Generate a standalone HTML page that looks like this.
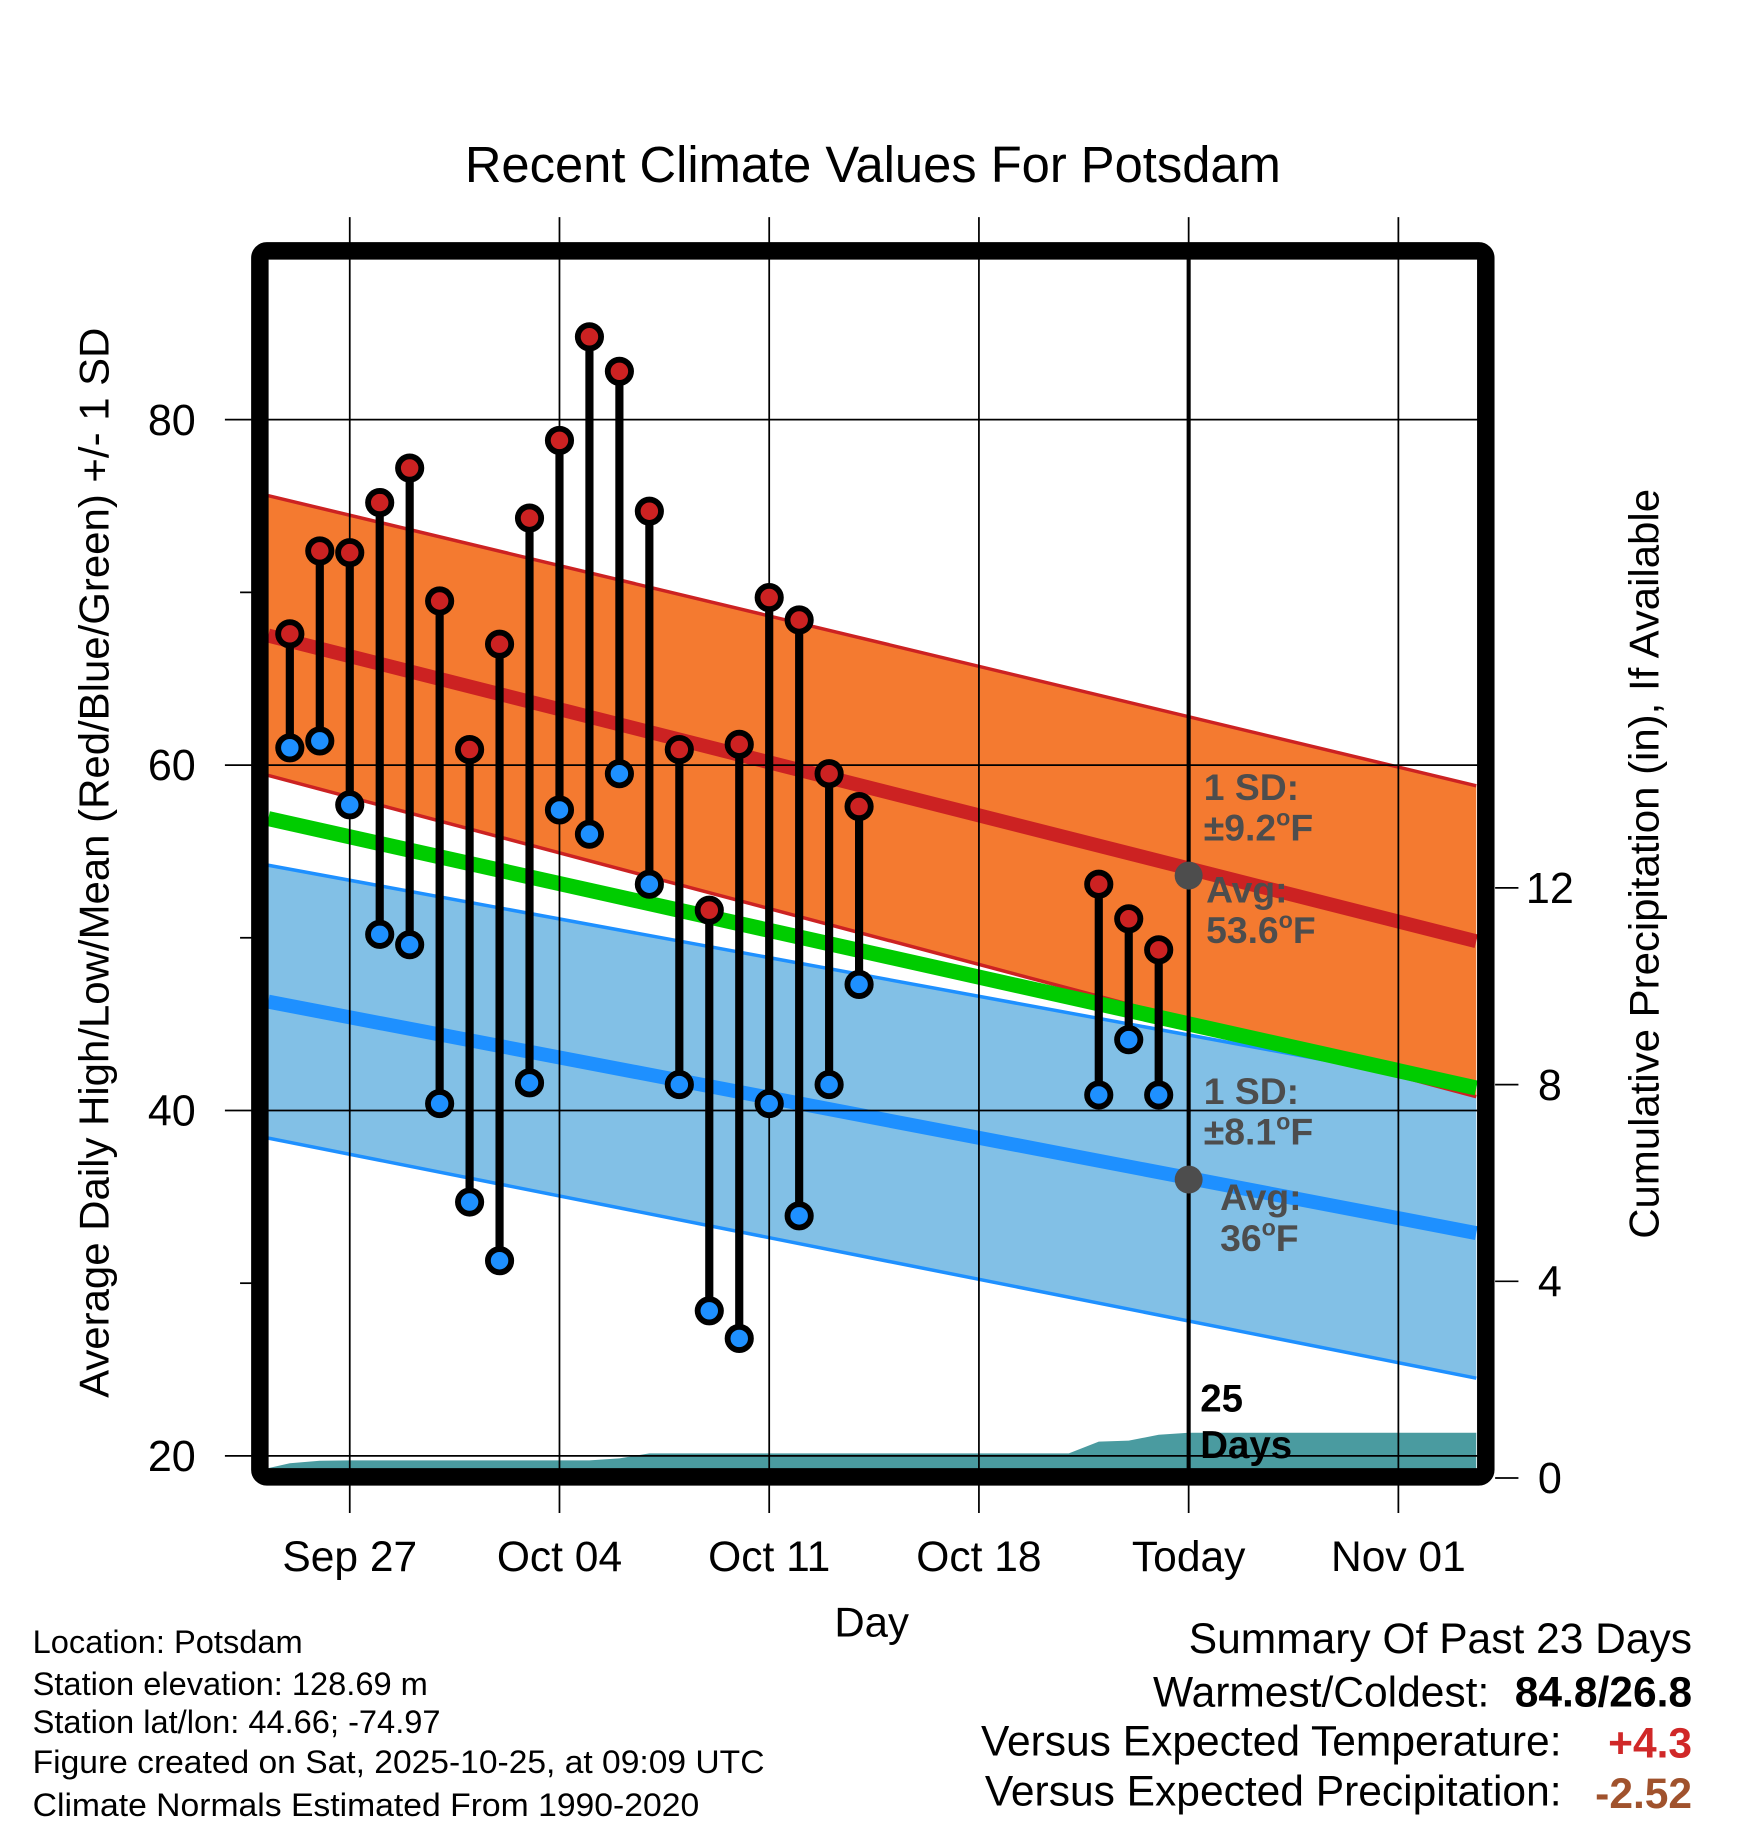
<!DOCTYPE html>
<html><head><meta charset="utf-8"><style>
html,body{margin:0;padding:0;background:#fff}
svg{display:block}
text{font-family:"Liberation Sans",Arial,sans-serif}
</style></head><body>
<svg id="chart" width="1748" height="1828" viewBox="0 0 1500 1568" xmlns="http://www.w3.org/2000/svg">
<rect width="1500" height="1568" fill="#fff"/>
<defs><clipPath id="plotclip"><rect x="230" y="222" width="1038" height="1038"/></clipPath></defs>
<g id="bands" clip-path="url(#plotclip)"></g>
<g id="grid"></g>
<g id="marks" clip-path="url(#plotclip)"></g>
<g id="axes"></g>
<text x="749" y="156" font-size="43.5" text-anchor="middle">Recent Climate Values For Potsdam</text>
<text transform="translate(93,740) rotate(-90)" font-size="36" text-anchor="middle">Average Daily High/Low/Mean (Red/Blue/Green) +/- 1 SD</text>
<text transform="translate(1423,741) rotate(-90)" font-size="36" text-anchor="middle">Cumulative Precipitation (in), If Available</text>
<text x="748" y="1404" font-size="36" text-anchor="middle">Day</text>
<g font-size="28">
<text x="28" y="1418">Location: Potsdam</text>
<text x="28" y="1454">Station elevation: 128.69 m</text>
<text x="28" y="1487">Station lat/lon: 44.66; -74.97</text>
<text x="28" y="1521" textLength="628" lengthAdjust="spacingAndGlyphs">Figure created on Sat, 2025-10-25, at 09:09 UTC</text>
<text x="28" y="1558" textLength="572" lengthAdjust="spacingAndGlyphs">Climate Normals Estimated From 1990-2020</text>
</g>
<g font-size="36.5" text-anchor="end">
<text x="1452" y="1418">Summary Of Past 23 Days</text>
<text x="1278" y="1464">Warmest/Coldest:</text>
<text x="1452" y="1464" font-weight="bold">84.8/26.8</text>
<text x="1340" y="1506">Versus Expected Temperature:</text>
<text x="1452" y="1508" font-weight="bold" fill="#d02828">+4.3</text>
<text x="1340" y="1549">Versus Expected Precipitation:</text>
<text x="1452" y="1551" font-weight="bold" fill="#a0522d">-2.52</text>
</g>
</svg>
<script>
const NS='http://www.w3.org/2000/svg';
// ---- data ----
const xTickLabels=['Sep 27','Oct 04','Oct 11','Oct 18','Today','Nov 01'];
const xTickDays=[3,10,17,24,31,38]; // days since Sep 24
const yTicks=[20,40,60,80];
const yMinorTicks=[30,50,70];
const precipTicks=[0,4,8,12];
const obsDays=[1,2,3,4,5,6,7,8,9,10,11,12,13,14,15,16,17,18,19,20,28,29,30];
const highs=[67.6,72.4,72.3,75.2,77.2,69.5,60.9,67.0,74.3,78.8,84.8,82.8,74.7,60.9,51.6,61.2,69.7,68.4,59.5,57.6,53.1,51.1,49.3];
const lows=[61.0,61.4,57.7,50.2,49.6,40.4,34.7,31.3,41.6,57.4,56.0,59.5,53.1,41.5,28.4,26.8,40.4,33.9,41.5,47.3,40.9,44.1,40.9];
const normDays=[0.28,40.6];
const highMean=[67.5,49.8], highSD=[8.1,9.0];
const lowMean=[46.3,32.9], lowSD=[7.9,8.4];
const meanNorm=[56.9,41.3];
const precipDays=[0.28,1,2,3,11,12,13,27,28,29,30,31,40.6];
const precipCum=[0.2,0.3,0.35,0.36,0.36,0.4,0.5,0.5,0.74,0.76,0.88,0.92,0.92];
// ---- scales ----
const X=d=>223+d*25.71;
const Y=v=>1249-(v-20)*14.82;
const YP=p=>1268-p*42.2;
function el(tag,attrs,parent){const e=document.createElementNS(NS,tag);for(const k in attrs)e.setAttribute(k,attrs[k]);parent.appendChild(e);return e;}
const bands=document.getElementById('bands'),grid=document.getElementById('grid'),marks=document.getElementById('marks'),axes=document.getElementById('axes');
function linePts(arr,off,sgn){return normDays.map((d,i)=>X(d)+','+Y(arr[i]+sgn*off[i]));}
function band(mean,sd,fill,edge,name){
 const up=linePts(mean,sd,1),lo=linePts(mean,sd,-1);
 const p=el('polygon',{points:up.concat(lo.slice().reverse()).join(' '),fill:fill},bands);
 
 
 [up,lo].forEach(pts=>{const l=el('polyline',{points:pts.join(' '),fill:'none',stroke:edge,'stroke-width':3},bands);
 
 });
 const m=el('polyline',{points:linePts(mean,[0,0],0).join(' '),fill:'none',stroke:edge,'stroke-width':12},bands);
 
 
}
band(lowMean,lowSD,'#82c0e6','#1e90ff','low');
band(highMean,highSD,'#f47a30','#cc2222','high');
const g=el('polyline',{points:linePts(meanNorm,[0,0],0).join(' '),fill:'none',stroke:'#00cc00','stroke-width':13},bands);


// precip area
const pp=precipDays.map((d,i)=>X(d)+','+YP(precipCum[i]));
const pa=el('polygon',{points:pp.join(' ')+' '+X(40.6)+','+1262+' '+X(0.28)+','+1262,fill:'#4a9ba0'},bands);


// grid
yTicks.forEach(v=>{const l=el('line',{x1:193,x2:1268,y1:Y(v),y2:Y(v),stroke:'#000','stroke-width':1.5},grid);
 
 
 const t=el('text',{x:168,y:Y(v)+13,'font-size':37,'text-anchor':'end'},axes);t.textContent=v;
 
 });
yMinorTicks.forEach(v=>{const l=el('line',{x1:206,x2:216,y1:Y(v),y2:Y(v),stroke:'#000','stroke-width':1.5},grid);
 
 });
xTickDays.forEach((d,i)=>{const l=el('line',{x1:X(d),x2:X(d),y1:186,y2:1298,stroke:'#000','stroke-width':1.5},grid);
 
 
 const t=el('text',{x:X(d),y:1348,'font-size':36.5,'text-anchor':'middle'},axes);t.textContent=xTickLabels[i];
 
 });
precipTicks.forEach(p=>{const l=el('line',{x1:1283,x2:1303,y1:YP(p),y2:YP(p),stroke:'#000','stroke-width':1.5},axes);
 
 
 const t=el('text',{x:1330,y:YP(p)+13,'font-size':37,'text-anchor':'middle'},axes);t.textContent=p;
 
 });
// today line
const tl=el('line',{x1:X(31),x2:X(31),y1:222,y2:1262,stroke:'#000','stroke-width':3.5},marks);


// stems & dots
obsDays.forEach((d,i)=>{const s=el('line',{x1:X(d),x2:X(d),y1:Y(highs[i]),y2:Y(lows[i]),stroke:'#000','stroke-width':7},marks);
 
 });
obsDays.forEach((d,i)=>{
 const h=el('circle',{cx:X(d),cy:Y(highs[i]),r:10,fill:'#cc2222',stroke:'#000','stroke-width':5},marks);
 
 
 const lo=el('circle',{cx:X(d),cy:Y(lows[i]),r:10,fill:'#1e90ff',stroke:'#000','stroke-width':5},marks);
 
 });
// annotations
const gc=el('circle',{cx:X(31),cy:Y(53.6),r:12,fill:'#4d4d4d'},marks);


const gc2=el('circle',{cx:X(31),cy:Y(36),r:12,fill:'#4d4d4d'},marks);


function note(txt,x,y,name,fill,size,deg){const t=el('text',{x:x,y:y,'font-size':size||32,'font-weight':'bold',fill:fill||'#4d4d4d'},marks);
 t.appendChild(document.createTextNode(txt));
 if(deg){const s=el('tspan',{'font-size':20,dy:-13},t);s.textContent='o';const f=el('tspan',{dy:13},t);f.textContent='F';}
 
 }
note('1 SD:',1033,686,'high-sd-label');note('\u00b19.2',1033,721,'high-sd-value',null,null,true);
note('Avg:',1035,774,'high-avg-label');note('53.6',1035,809,'high-avg-value',null,null,true);
note('1 SD:',1033,947,'low-sd-label');note('\u00b18.1',1033,982,'low-sd-value',null,null,true);
note('Avg:',1047,1038,'low-avg-label');note('36',1047,1073,'low-avg-value',null,null,true);
note('25',1030,1211,'days-count','#000',33);note('Days',1030,1251,'days-label','#000',33);
// frame
const fr=el('rect',{x:223,y:215,width:1052,height:1052,rx:6,fill:'none',stroke:'#000','stroke-width':15},axes);


</script>
</body></html>
